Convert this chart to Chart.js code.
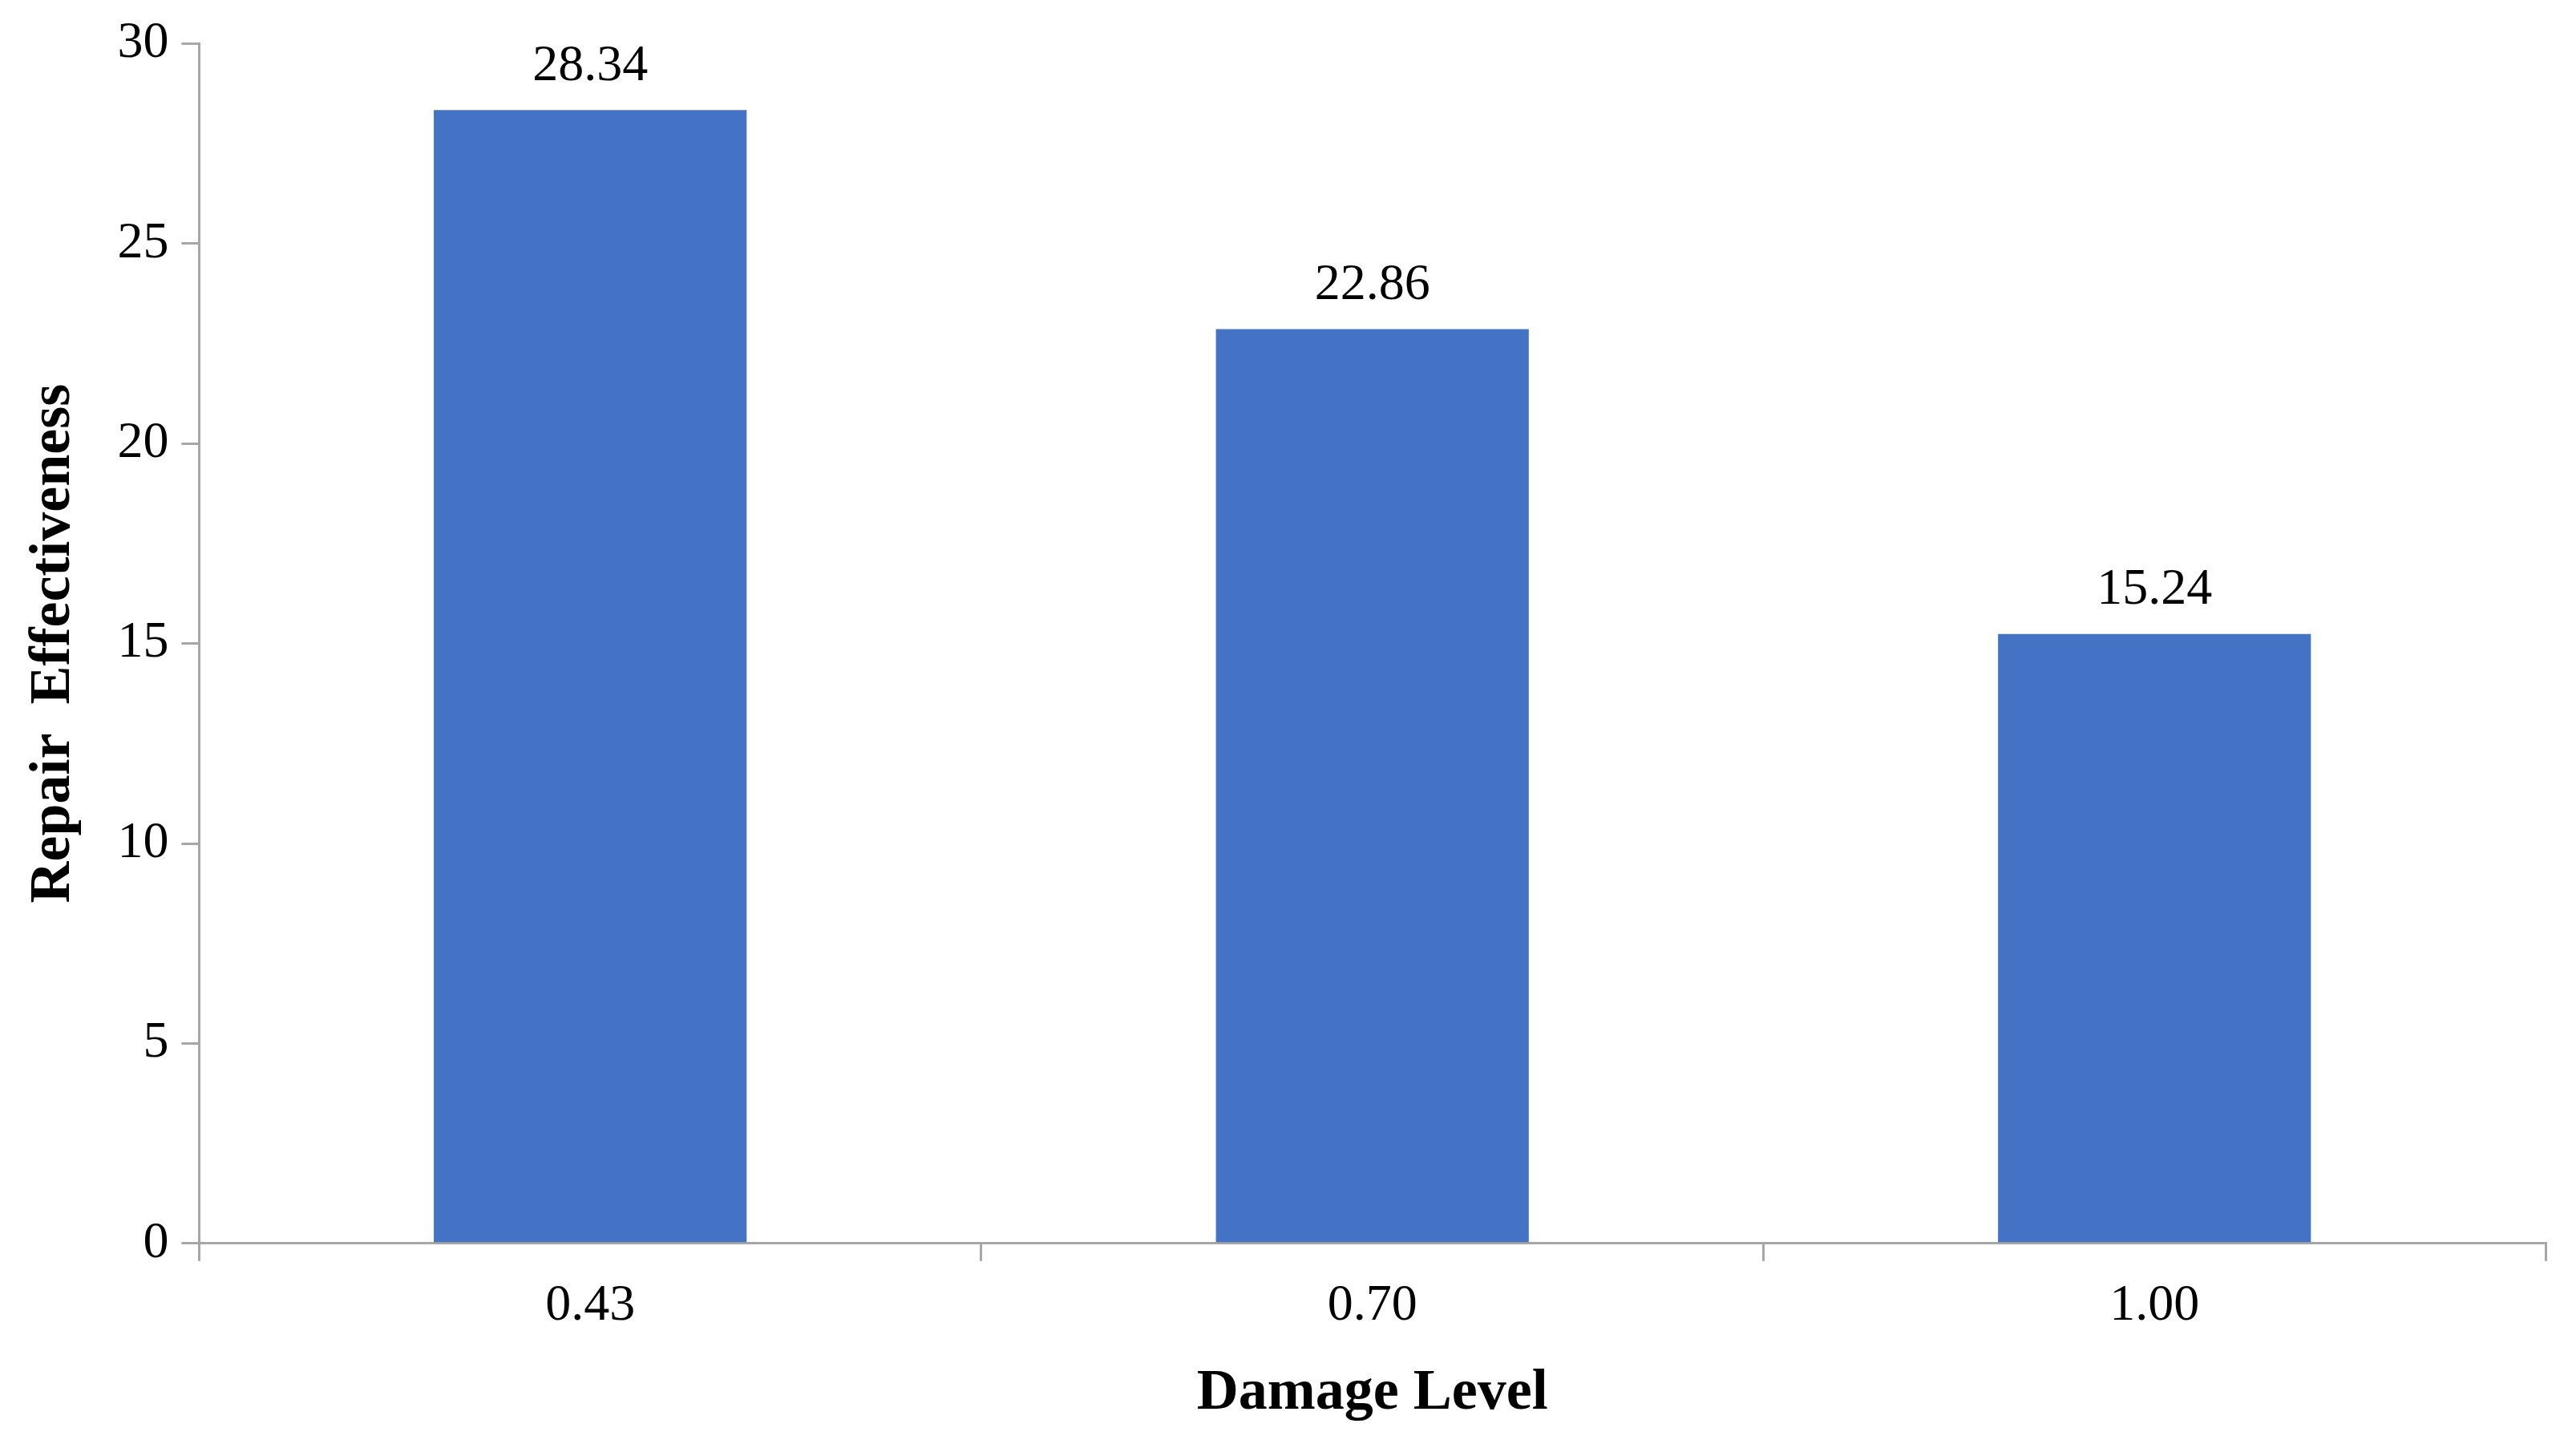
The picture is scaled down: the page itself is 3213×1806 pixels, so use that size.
<!DOCTYPE html>
<html>
<head>
<meta charset="utf-8">
<script src="https://cdn.jsdelivr.net/npm/chart.js@4"></script>
<style>
  html, body { margin: 0; padding: 0; background: #fff; }
  #wrap { width: 3213px; height: 1806px; }
</style>
</head>
<body>
<div id="wrap"><canvas id="chart"></canvas></div>
<script>
// Chart data
const categories = ['0.43', '0.70', '1.00'];
const effectiveness = [28.34, 22.86, 15.24];
const yTicks = [0, 5, 10, 15, 20, 25, 30];

const serif = '"Liberation Serif", "DejaVu Serif", serif';
const axisGrey = '#a6a6a6';

// Value labels above each bar
const valueLabels = {
    id: 'valueLabels',
    afterDatasetsDraw(chart) {
        const ctx = chart.ctx;
        const meta = chart.getDatasetMeta(0);
        ctx.save();
        ctx.font = '64px ' + serif;
        ctx.fillStyle = '#000';
        ctx.textAlign = 'center';
        ctx.textBaseline = 'bottom';
        meta.data.forEach((bar, i) => {
            ctx.fillText(effectiveness[i].toFixed(2), bar.x, bar.y - 22);
        });
        ctx.restore();
    }
};

new Chart(document.getElementById('chart'), {
    type: 'bar',
    data: {
        labels: categories,
        datasets: [{
            data: effectiveness,
            backgroundColor: '#4472c4',
            categoryPercentage: 1,
            barPercentage: 0.4
        }]
    },
    options: {
        responsive: true,
        maintainAspectRatio: false,
        animation: false,
        layout: { padding: { top: 50, right: 38, bottom: 20, left: 20 } },
        plugins: { legend: { display: false }, tooltip: { enabled: false } },
        scales: {
            x: {
                border: { color: axisGrey, width: 3 },
                grid: { offset: true, drawOnChartArea: false, color: axisGrey, lineWidth: 3, tickLength: 22 },
                ticks: { color: '#000', font: { family: serif, size: 64 }, padding: 18 },
                title: { display: true, text: 'Damage Level', color: '#000', font: { family: serif, size: 72, weight: 'bold' }, padding: { top: 10 } }
            },
            y: {
                min: 0,
                max: 30,
                afterBuildTicks: axis => { axis.ticks = yTicks.map(v => ({ value: v })); },
                border: { color: axisGrey, width: 3 },
                grid: { drawOnChartArea: false, color: axisGrey, lineWidth: 3, tickLength: 22 },
                ticks: { color: '#000', font: { family: serif, size: 64 }, padding: 16 },
                title: { display: true, text: 'Repair  Effectiveness', color: '#000', font: { family: serif, size: 72, weight: 'bold' }, padding: { bottom: 20 } }
            }
        }
    },
    plugins: [valueLabels]
});
</script>
</body>
</html>
